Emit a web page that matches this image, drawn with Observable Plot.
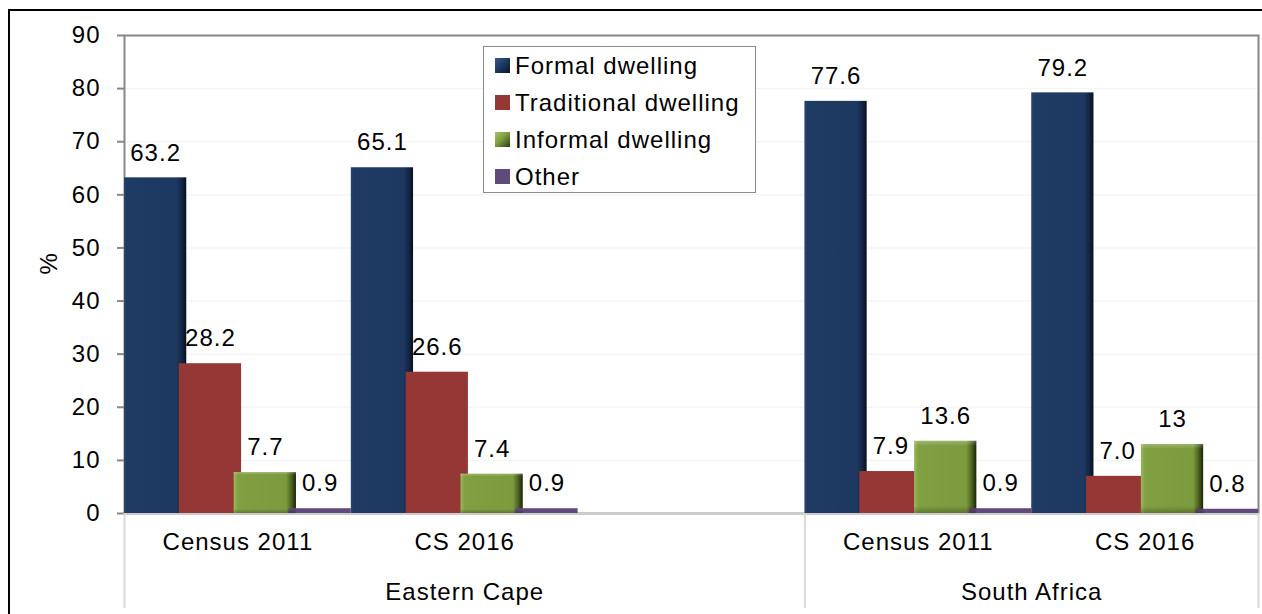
<!DOCTYPE html>
<html>
<head>
<meta charset="utf-8">
<script src="https://cdn.jsdelivr.net/npm/d3@7"></script>
<script src="https://cdn.jsdelivr.net/npm/@observablehq/plot@0.6"></script>
<style>
  html, body { margin: 0; padding: 0; background: #fff; }
  #wrap { position: relative; width: 1262px; height: 614px; overflow: hidden;
          font-family: "Liberation Sans", Arial, sans-serif; }
  #chart { position: absolute; left: 0; top: 0; }
  #frame { position: absolute; left: 8px; top: 9px; width: 1400px; height: 800px;
           border-left: 2.5px solid #000; border-top: 2.5px solid #000; pointer-events: none; z-index: 3; }
  #legend { position: absolute; left: 483px; top: 46px; width: 271px; height: 145px;
            border: 1.5px solid #8a8a8a; background: #fff; z-index: 2; box-sizing: content-box; }
  .item { display: flex; align-items: center; height: 37px; font-size: 24px; letter-spacing: 1px; color: #000; }
  .sw { width: 15px; height: 15px; margin-left: 11px; margin-right: 5px; flex: none; }
</style>
</head>
<body>
<div id="wrap">
  <div id="chart"></div>
  <div id="legend"></div>
  <div id="frame"></div>
</div>
<script>
// ---- data ----
const regions = ["Eastern Cape", "South Africa"];
const surveys = ["Census 2011", "CS 2016"];
const series = ["Formal dwelling", "Traditional dwelling", "Informal dwelling", "Other"];
const ecCensus2011 = [63.2, 28.2, 7.7, 0.9];
const ecCS2016 = [65.1, 26.6, 7.4, 0.9];
const saCensus2011 = [77.6, 7.9, 13.6, 0.9];
const saCS2016 = [79.2, 7.0, 13, 0.8];
const ecCensus2011Labels = ["63.2", "28.2", "7.7", "0.9"];
const ecCS2016Labels = ["65.1", "26.6", "7.4", "0.9"];
const saCensus2011Labels = ["77.6", "7.9", "13.6", "0.9"];
const saCS2016Labels = ["79.2", "7.0", "13", "0.8"];
const yTicks = [0, 10, 20, 30, 40, 50, 60, 70, 80, 90];
const yLabel = "%";

// ---- styles ----
const colors = ["#1f3864", "#953735", "#7f9f3f", "#604a7b"];
const fills = ["url(#gFormal)", "#953735", "url(#gInformal)", "#604a7b"];

// ---- table ----
const groups = [
  {region: regions[0], survey: surveys[0], values: ecCensus2011, labels: ecCensus2011Labels},
  {region: regions[0], survey: surveys[1], values: ecCS2016, labels: ecCS2016Labels},
  {region: regions[1], survey: surveys[0], values: saCensus2011, labels: saCensus2011Labels},
  {region: regions[1], survey: surveys[1], values: saCS2016, labels: saCS2016Labels}
];
// slots: EC has 2 surveys + one empty slot, SA has 2 surveys
const regionStart = [0, 3];
const regionEnd = [3, 5];
const barW = 0.2745;                 // bar width as a share of a slot (bars overlap)
const barStep = (1 - barW) / 3;
const rows = [];
const catLabels = [];
groups.forEach(g => {
  const slot = regionStart[regions.indexOf(g.region)] + surveys.indexOf(g.survey);
  catLabels.push({x: slot + 0.5, text: g.survey});
  g.values.forEach((v, j) => {
    const x1 = slot + j * barStep;
    rows.push({series: series[j], x1, x2: x1 + barW, xm: x1 + barW / 2, base: 0, value: v, label: g.labels[j]});
  });
});
const regionLabels = regions.map((r, i) => ({x: (regionStart[i] + regionEnd[i]) / 2, text: r}));
const separators = [0, ...regionEnd];

const chart = Plot.plot({
  width: 1262,
  height: 614,
  marginLeft: 124,
  marginRight: 4,
  marginTop: 35,
  marginBottom: 101,
  x: {domain: [0, 5], axis: null},
  y: {domain: [0, 90], axis: null},
  style: {
    fontFamily: "'Liberation Sans', Arial, sans-serif",
    fontSize: "24px",
    letterSpacing: "1px",
    background: "transparent",
    color: "#000"
  },
  marks: [
    Plot.gridY(yTicks, {stroke: "#f5f5f5", strokeOpacity: 1, strokeWidth: 1.5}),
    Plot.frame({stroke: "#878787", strokeWidth: 2}),
    Plot.ruleY([0], {stroke: "#cdcdcd", strokeWidth: 2.5}),
    ...series.map((s, j) => Plot.rect(rows.filter(r => r.series === s), {
      x1: "x1", x2: "x2", y1: "base", y2: "value", fill: fills[j]
    })),
    Plot.rect(rows.filter(r => r.series === series[2]), {
      x1: "x1", x2: "x2", y1: "base", y2: "value", fill: "url(#gTop)"
    }),
    Plot.text(rows, {x: "xm", y: "value", text: "label", dy: -25, lineAnchor: "middle", fill: "#000"}),
    Plot.axisY({ticks: yTicks, tickSize: 7, tickPadding: 17, stroke: "#878787", strokeWidth: 2, fill: "#000"}),
    Plot.axisX({ticks: separators, tickSize: 95, tickFormat: () => "", stroke: "#d9d9d9", strokeWidth: 2}),
    Plot.text(catLabels, {x: "x", text: "text", frameAnchor: "bottom", dy: 29, lineAnchor: "middle", fill: "#000"}),
    Plot.text(regionLabels, {x: "x", text: "text", frameAnchor: "bottom", dy: 79, lineAnchor: "middle", fill: "#000"}),
    Plot.text([yLabel], {frameAnchor: "left", dx: -75, rotate: -90, lineAnchor: "middle", fill: "#000"})
  ]
});

d3.select(chart).insert("defs", ":first-child").html(`
  <linearGradient id="gFormal" x1="0" y1="0" x2="1" y2="0">
    <stop offset="0" stop-color="#2a4874"/>
    <stop offset="0.04" stop-color="#1f3b63"/>
    <stop offset="0.84" stop-color="#1e3961"/>
    <stop offset="0.93" stop-color="#132644"/>
    <stop offset="1" stop-color="#070f1c"/>
  </linearGradient>
  <linearGradient id="gInformal" x1="0" y1="0" x2="1" y2="0">
    <stop offset="0" stop-color="#9ab85e"/>
    <stop offset="0.07" stop-color="#80a042"/>
    <stop offset="0.84" stop-color="#7c9a3e"/>
    <stop offset="0.93" stop-color="#4b5f21"/>
    <stop offset="1" stop-color="#1b2407"/>
  </linearGradient>
  <linearGradient id="gTop" x1="0" y1="0" x2="0" y2="1">
    <stop offset="0" stop-color="#ffffff" stop-opacity="0.25"/>
    <stop offset="0.07" stop-color="#ffffff" stop-opacity="0"/>
    <stop offset="0.9" stop-color="#000000" stop-opacity="0"/>
    <stop offset="1" stop-color="#000000" stop-opacity="0.25"/>
  </linearGradient>
`);
document.getElementById("chart").appendChild(chart);

// ---- legend ----
const swatchBg = [
  "linear-gradient(135deg,#3a5a88 0%,#1f3b63 45%,#0a1526 100%)",
  colors[1],
  "linear-gradient(135deg,#a9c46c 0%,#7f9f3f 45%,#2c3a10 100%)",
  colors[3]
];
const legend = document.getElementById("legend");
series.forEach((s, j) => {
  const item = document.createElement("div");
  item.className = "item";
  const sw = document.createElement("span");
  sw.className = "sw";
  sw.style.background = swatchBg[j];
  const t = document.createElement("span");
  t.textContent = s;
  item.appendChild(sw);
  item.appendChild(t);
  legend.appendChild(item);
});
</script>
</body>
</html>
